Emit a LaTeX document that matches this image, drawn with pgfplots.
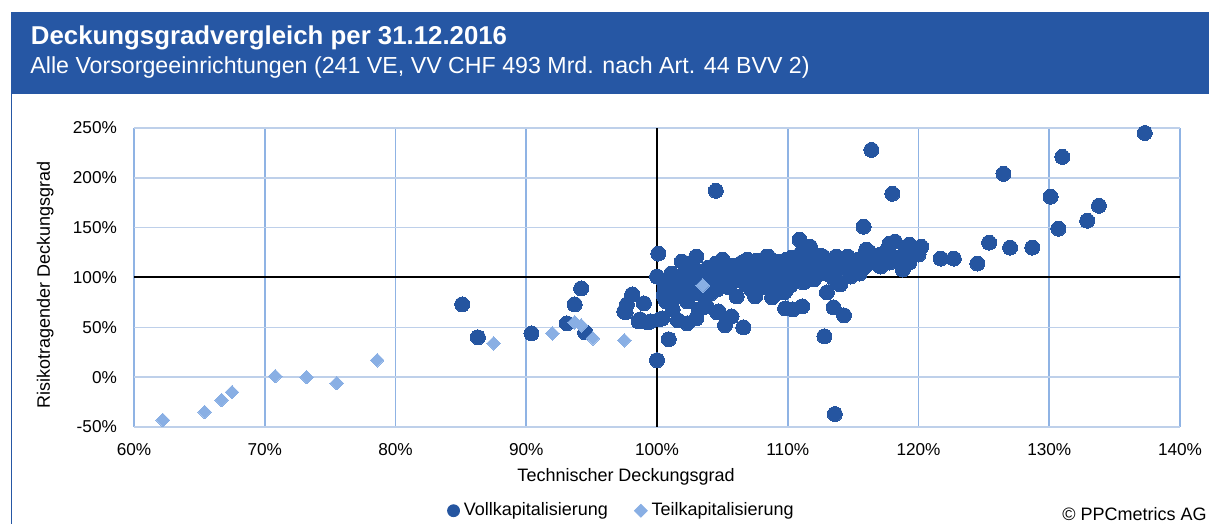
\documentclass[border=0pt]{standalone}
\usepackage{pgfplots}
\pgfplotsset{compat=1.18}
\usepackage{fontspec}
\setmainfont{Liberation Sans}
\definecolor{vkblue}{RGB}{37,85,160}
\definecolor{tkblue}{RGB}{137,175,228}
\definecolor{barblue}{RGB}{38,87,164}
\definecolor{vgrid}{RGB}{143,179,228}
\definecolor{hgrid}{RGB}{190,208,234}

\pgfplotstableread{
x y
85.1 73
86.3 40
90.4 44
93.1 54
93.7 73
94.2 89
94.5 45
100.0 17
100.9 38
104.5 187
100.1 124
116.4 228
118.0 184
115.8 151
113.6 -37
112.8 41
110.9 138
111.7 131
106.6 50
105.2 52
105.7 61
104.6 65
114.3 62
113.5 70
111.1 71
109.8 69
110.4 68
108.8 80
109.7 85
107.5 81
106.1 81
113.0 85
114.0 93
114.8 101
102.3 54
101.6 57
103.0 59
103.5 70
99.3 55
100.2 58
98.6 56
97.6 65
97.7 73
99.0 74
98.1 83
100.0 101
101.9 116
103.0 121
104.5 114
105.2 108
106.3 106
108.5 121
109.9 118
112.5 122
113.7 121
114.6 121
116.0 128
117.1 118
117.8 134
118.2 136
119.3 131
120.2 131
120.0 123
118.8 108
115.9 111
117.8 115
137.3 245
131.0 221
126.5 204
130.1 181
133.8 172
132.9 157
130.7 149
125.4 135
127.0 130
128.7 130
124.5 114
121.7 119
122.7 119
119.3 133
119.3 115
97.5 66
98.7 58
99.5 56
100.4 59
101.2 68
103.2 68
103.8 71
104.1 84
104.9 104
105.3 98
104.7 66
106.4 104
107.4 109
108.4 121
108.4 98
109.4 116
109.8 86
101.1 104
100.6 89
101.5 94
102.3 104
102.5 91
100.7 76
101.5 81
102.3 76
101.8 101
103.2 84
104.2 94
106.8 93
107.8 94
109.5 101
110.7 118
111.2 108
110.4 104
112.0 121
112.7 121
112.2 108
113.2 111
114.5 119
115.0 111
116.2 126
117.1 111
117.1 123
119.3 116
111.2 95
114.8 103
109.4 111
110.2 108
109.9 115
110.9 118
102.8 110
103.6 105
104.0 100
105.8 112
106.5 115
107.0 100
107.9 104
108.0 112
108.9 106
109.2 96
110.0 100
110.6 112
111.5 115
111.8 103
112.4 113
112.9 104
113.4 116
113.9 108
114.3 114
114.9 116
115.4 118
116.6 115
105.5 90
106.0 97
107.2 88
108.2 90
109.0 93
110.2 92
102.0 86
101.0 97
103.6 90
104.6 88
100.5 82
101.3 88
102.9 97
103.9 110
105.0 118
106.9 118
107.6 117
110.3 120
111.0 124
108.6 110
112.0 98
113.5 99
115.5 104
116.5 120
117.6 128
118.5 120
119.0 125
105.6 104
107.0 110
}\voll

\pgfplotstableread{
x y
62.2 -43
65.4 -35
66.7 -23
67.5 -15
70.8 1
73.2 0
75.5 -6
78.6 17
87.5 34
92.0 44
93.7 55
94.2 52
95.1 39
97.5 37
103.5 92
}\teil

\begin{document}
\begin{tikzpicture}
\useasboundingbox (0,0) rectangle (604.5pt,262pt);
\fill[barblue] (5.35pt,214.8pt) rectangle (604.5pt,256.2pt);
\draw[barblue, line width=0.8pt] (5.7pt,215pt) -- (5.7pt,0pt);
\node[anchor=base west, inner sep=0pt, text=white, font=\fontsize{12.9}{15}\selectfont\bfseries] at (15.3pt,239.5pt) {Deckungsgradvergleich per 31.12.2016};
\node[anchor=base west, inner sep=0pt, text=white, font=\fontsize{11.6}{14}\selectfont] at (15pt,225pt) {Alle Vorsorgeeinrichtungen (241 VE, VV CHF 493 Mrd. nach Art. 44 BVV 2)};
\node[anchor=base east, inner sep=0pt, font=\fontsize{9}{11}\selectfont] at (603.5pt,1.5pt) {© PPCmetrics AG};
\begin{axis}[
  at={(67pt,48.5pt)}, anchor=south west,
  width=523pt, height=149.5pt, scale only axis,
  xmin=60, xmax=140, ymin=-50, ymax=250,
  xtick={60,70,80,90,100,110,120,130,140},
  ytick={-50,0,50,100,150,200,250},
  xticklabels={60\%,70\%,80\%,90\%,100\%,110\%,120\%,130\%,140\%},
  yticklabels={-50\%,0\%,50\%,100\%,150\%,200\%,250\%},
  axis line style={draw=none},
  major tick length=0pt,
  grid=major,
  x grid style={vgrid, line width=0.8pt},
  y grid style={hgrid, line width=0.8pt},
  xticklabel style={anchor=base, yshift=-14.5pt, inner sep=0pt, font=\fontsize{8.6}{10}\selectfont},
  yticklabel style={anchor=east, xshift=-8.35pt, inner sep=0pt, font=\fontsize{8.6}{10}\selectfont},
  xlabel={Technischer Deckungsgrad},
  ylabel={Risikotragender Deckungsgrad},
  every axis x label/.style={at={(rel axis cs:0.4704,0)}, anchor=base, yshift=-27.35pt, inner sep=0pt, font=\fontsize{9}{11}\selectfont},
  every axis y label/.style={at={(rel axis cs:-0.0803,0.475)}, anchor=base, rotate=90, inner sep=0pt, font=\fontsize{9}{11}\selectfont},
  clip=false,
  legend style={at={(rel axis cs:0.299,-0.280)}, anchor=west, draw=none, fill=none, inner sep=0pt,
    legend columns=2, font=\fontsize{9}{11}\selectfont,
    column sep=0pt,
    /tikz/every even column/.append style={column sep=11pt}},
]
\addlegendimage{legend image code/.code={\fill[vkblue] (3pt,0pt) circle (3pt);}}
\addlegendentry{Vollkapitalisierung}
\addlegendimage{legend image code/.code={\fill[tkblue] (0pt,0pt) -- (3.2pt,3.2pt) -- (6.4pt,0pt) -- (3.2pt,-3.2pt) -- cycle;}}
\addlegendentry{Teilkapitalisierung}
\addplot[black, line width=1pt, forget plot] coordinates {(60,100) (140,100)};
\addplot[black, line width=1pt, forget plot] coordinates {(100,-50) (100,250)};
\addplot[only marks, color=vkblue, mark=*, mark size=3.75pt, mark options={fill=vkblue, draw=vkblue, line width=0pt}, forget plot] table[x=x,y=y] {\voll};
\addplot[only marks, color=tkblue, mark=square*, mark size=2.4pt, mark options={fill=tkblue, draw=tkblue, line width=0pt, rotate=45}, forget plot] table[x=x,y=y] {\teil};
\end{axis}
\end{tikzpicture}
\end{document}
